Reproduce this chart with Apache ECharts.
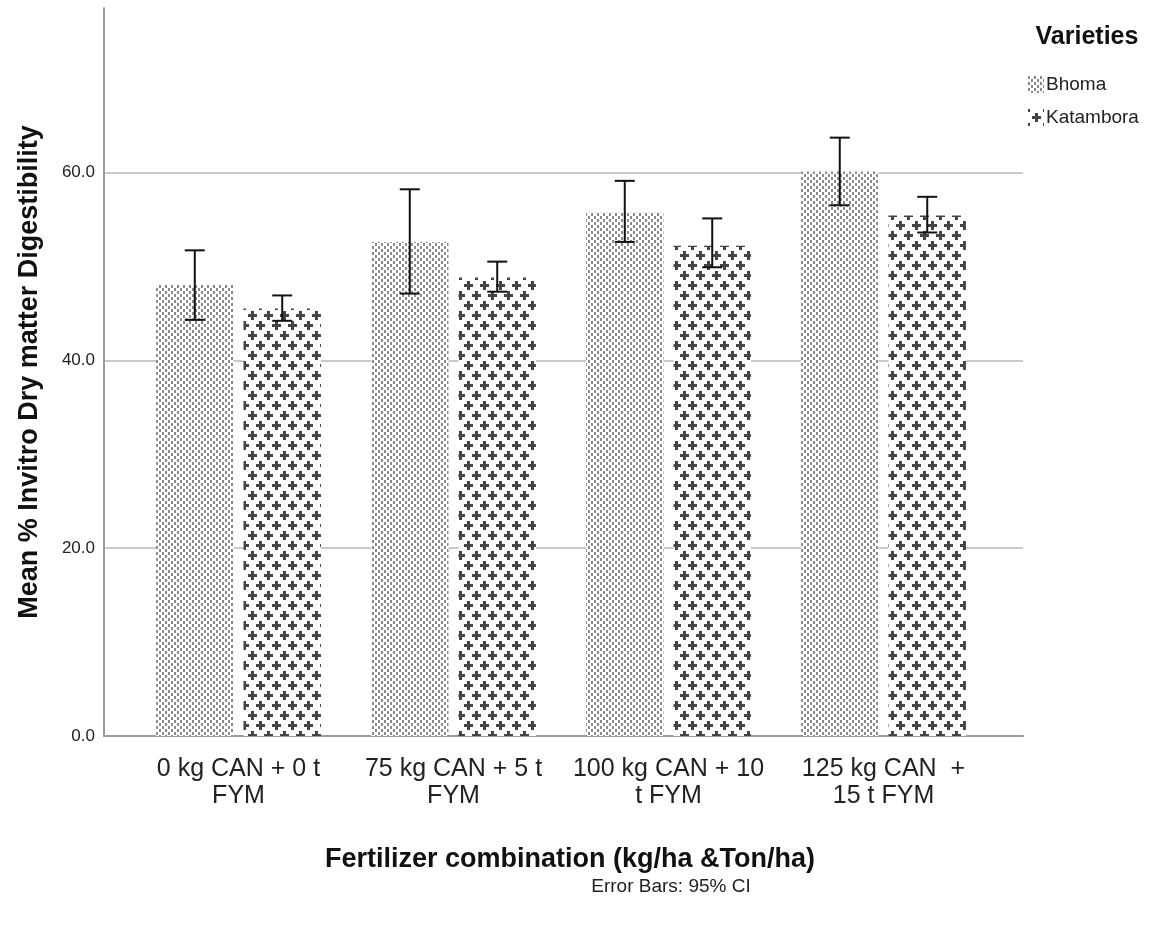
<!DOCTYPE html>
<html>
<head>
<meta charset="utf-8">
<script src="https://cdn.jsdelivr.net/npm/echarts@6/dist/echarts.min.js"></script>
<style>
html, body { margin: 0; padding: 0; background: #fff; }
#main { width: 1161px; height: 930px; }
</style>
</head>
<body>
<div id="main"></div>
<script>
// data
var categories = ['0 kg CAN + 0 t\nFYM', '75 kg CAN + 5 t\nFYM', '100 kg CAN + 10\nt FYM', '125 kg CAN  +\n15 t FYM'];
var varieties = ['Bhoma', 'Katambora'];
var bhomaMean = [48.0, 52.6, 55.7, 60.1];
var bhomaLow = [44.3, 47.1, 52.6, 56.5];
var bhomaHigh = [51.7, 58.2, 59.1, 63.7];
var katMean = [45.5, 48.8, 52.2, 55.4];
var katLow = [44.2, 47.3, 49.9, 53.6];
var katHigh = [46.9, 50.5, 55.1, 57.4];
var yTicks = [0, 20, 40, 60];
var yMax = 77.5;

var FONT = 'Liberation Sans';

// fill patterns
function dotPattern(w, h) {
    var c = document.createElement('canvas');
    c.width = w; c.height = h;
    var ctx = c.getContext('2d');
    ctx.fillStyle = '#fff';
    ctx.fillRect(0, 0, w, h);
    ctx.fillStyle = '#8a8a8a';
    for (var y = 0; y < h; y += 6) {
        for (var x = 0; x < w; x += 6) {
            ctx.fillRect(x, y, 2, 3);
            ctx.fillRect(x + 3, y + 3, 2, 3);
        }
    }
    return c;
}
function plusPattern(w, h, x0, y0) {
    var c = document.createElement('canvas');
    c.width = w; c.height = h;
    var ctx = c.getContext('2d');
    ctx.fillStyle = '#fff';
    ctx.fillRect(0, 0, w, h);
    ctx.fillStyle = '#444';
    function plus(x, y) {
        ctx.fillRect(x - 4, y - 1, 9, 3);
        ctx.fillRect(x - 1, y - 4, 3, 9);
    }
    for (var y = y0 - 20; y < h + 20; y += 20) {
        for (var x = x0 - 16; x < w + 16; x += 16) {
            plus(x, y);
            plus(x + 8, y + 10);
        }
    }
    return c;
}
var bhomaFill = { image: dotPattern(6, 6), repeat: 'repeat' };
var katFill = { image: plusPattern(16, 20, 4, 5), repeat: 'repeat' };
var bhomaIcon = 'image://' + dotPattern(16, 17).toDataURL();
var katIcon = 'image://' + plusPattern(16, 17, 8, 8).toDataURL();

function zip3(a, b) {
    var out = [];
    for (var i = 0; i < a.length; i++) out.push([i, a[i], b[i]]);
    return out;
}

var BAR_W = 0.36, BAR_GAP = 0.13;
function errorBar(side) {
    return function (params, api) {
        var band = api.size([1, 0])[0];
        var off = side * band * (BAR_W + BAR_W * BAR_GAP) / 2;
        var lo = api.coord([api.value(0), api.value(1)]);
        var hi = api.coord([api.value(0), api.value(2)]);
        var x = lo[0] + off;
        var cap = 10;
        var st = { stroke: '#111', lineWidth: 2 };
        return {
            type: 'group',
            children: [
                { type: 'line', shape: { x1: x, y1: lo[1], x2: x, y2: hi[1] }, style: st },
                { type: 'line', shape: { x1: x - cap, y1: lo[1], x2: x + cap, y2: lo[1] }, style: st },
                { type: 'line', shape: { x1: x - cap, y1: hi[1], x2: x + cap, y2: hi[1] }, style: st }
            ]
        };
    };
}

var chart = echarts.init(document.getElementById('main'));
var option = {
    backgroundColor: '#fff',
    animation: false,
    textStyle: { fontFamily: FONT },
    grid: [
        { left: 104, right: 138, top: 8, bottom: 194 },
        { left: 131, right: 170, top: 8, bottom: 194 }
    ],
    xAxis: [
        {
            gridIndex: 0, type: 'value', min: 0, max: 1,
            axisLine: { show: true, onZero: false, lineStyle: { color: '#9a9a9a', width: 2 } },
            axisTick: { show: false }, axisLabel: { show: false }, splitLine: { show: false }
        },
        {
            gridIndex: 1, type: 'category', data: categories,
            axisLine: { show: false }, axisTick: { show: false },
            axisLabel: { color: '#222', fontSize: 25, lineHeight: 27, margin: 20, interval: 0, fontFamily: FONT }
        }
    ],
    yAxis: [
        {
            gridIndex: 0, type: 'value', min: 0, max: yMax, interval: 20,
            axisLine: { show: true, lineStyle: { color: '#9a9a9a', width: 2 } },
            axisTick: { show: false },
            axisLabel: {
                color: '#222', fontSize: 17, margin: 9, fontFamily: FONT, showMaxLabel: false,
                formatter: function (v) { return yTicks.indexOf(v) >= 0 ? v.toFixed(1) : ''; }
            },
            splitLine: { show: true, showMinLine: false, showMaxLine: false, lineStyle: { color: '#cacaca', width: 2 } }
        },
        { gridIndex: 1, type: 'value', min: 0, max: yMax, show: false }
    ],
    legend: {
        data: [
            { name: varieties[0], icon: bhomaIcon },
            { name: varieties[1], icon: katIcon }
        ],
        orient: 'vertical',
        left: 1023, top: 70,
        itemWidth: 16, itemHeight: 17, itemGap: 14,
        textStyle: { color: '#222', fontSize: 19, fontFamily: FONT, padding: [0, 0, 0, -3] }
    },
    graphic: [
        {
            type: 'text', x: 30, y: 372, rotation: Math.PI / 2,
            style: { text: 'Mean % Invitro Dry matter Digestibility', font: 'bold 27px ' + FONT, fill: '#111', textAlign: 'center', textVerticalAlign: 'middle' }
        },
        {
            type: 'text', x: 570, y: 860,
            style: { text: 'Fertilizer combination (kg/ha &Ton/ha)', font: 'bold 27px ' + FONT, fill: '#111', textAlign: 'center', textVerticalAlign: 'middle' }
        },
        {
            type: 'text', x: 671, y: 887,
            style: { text: 'Error Bars: 95% CI', font: '19px ' + FONT, fill: '#222', textAlign: 'center', textVerticalAlign: 'middle' }
        },
        {
            type: 'text', x: 1087, y: 37,
            style: { text: 'Varieties', font: 'bold 25px ' + FONT, fill: '#111', textAlign: 'center', textVerticalAlign: 'middle' }
        }
    ],
    series: [
        {
            name: 'Bhoma', type: 'bar', xAxisIndex: 1, yAxisIndex: 1,
            barWidth: (BAR_W * 100) + '%', barGap: (BAR_GAP * 100) + '%',
            itemStyle: { color: bhomaFill },
            data: bhomaMean
        },
        {
            name: 'Katambora', type: 'bar', xAxisIndex: 1, yAxisIndex: 1,
            barWidth: (BAR_W * 100) + '%', barGap: (BAR_GAP * 100) + '%',
            itemStyle: { color: katFill },
            data: katMean
        },
        {
            name: 'Bhoma CI', type: 'custom', xAxisIndex: 1, yAxisIndex: 1, z: 5,
            renderItem: errorBar(-1), encode: { x: 0, y: [1, 2] },
            data: zip3(bhomaLow, bhomaHigh)
        },
        {
            name: 'Katambora CI', type: 'custom', xAxisIndex: 1, yAxisIndex: 1, z: 5,
            renderItem: errorBar(1), encode: { x: 0, y: [1, 2] },
            data: zip3(katLow, katHigh)
        }
    ]
};
chart.setOption(option);
</script>
</body>
</html>
